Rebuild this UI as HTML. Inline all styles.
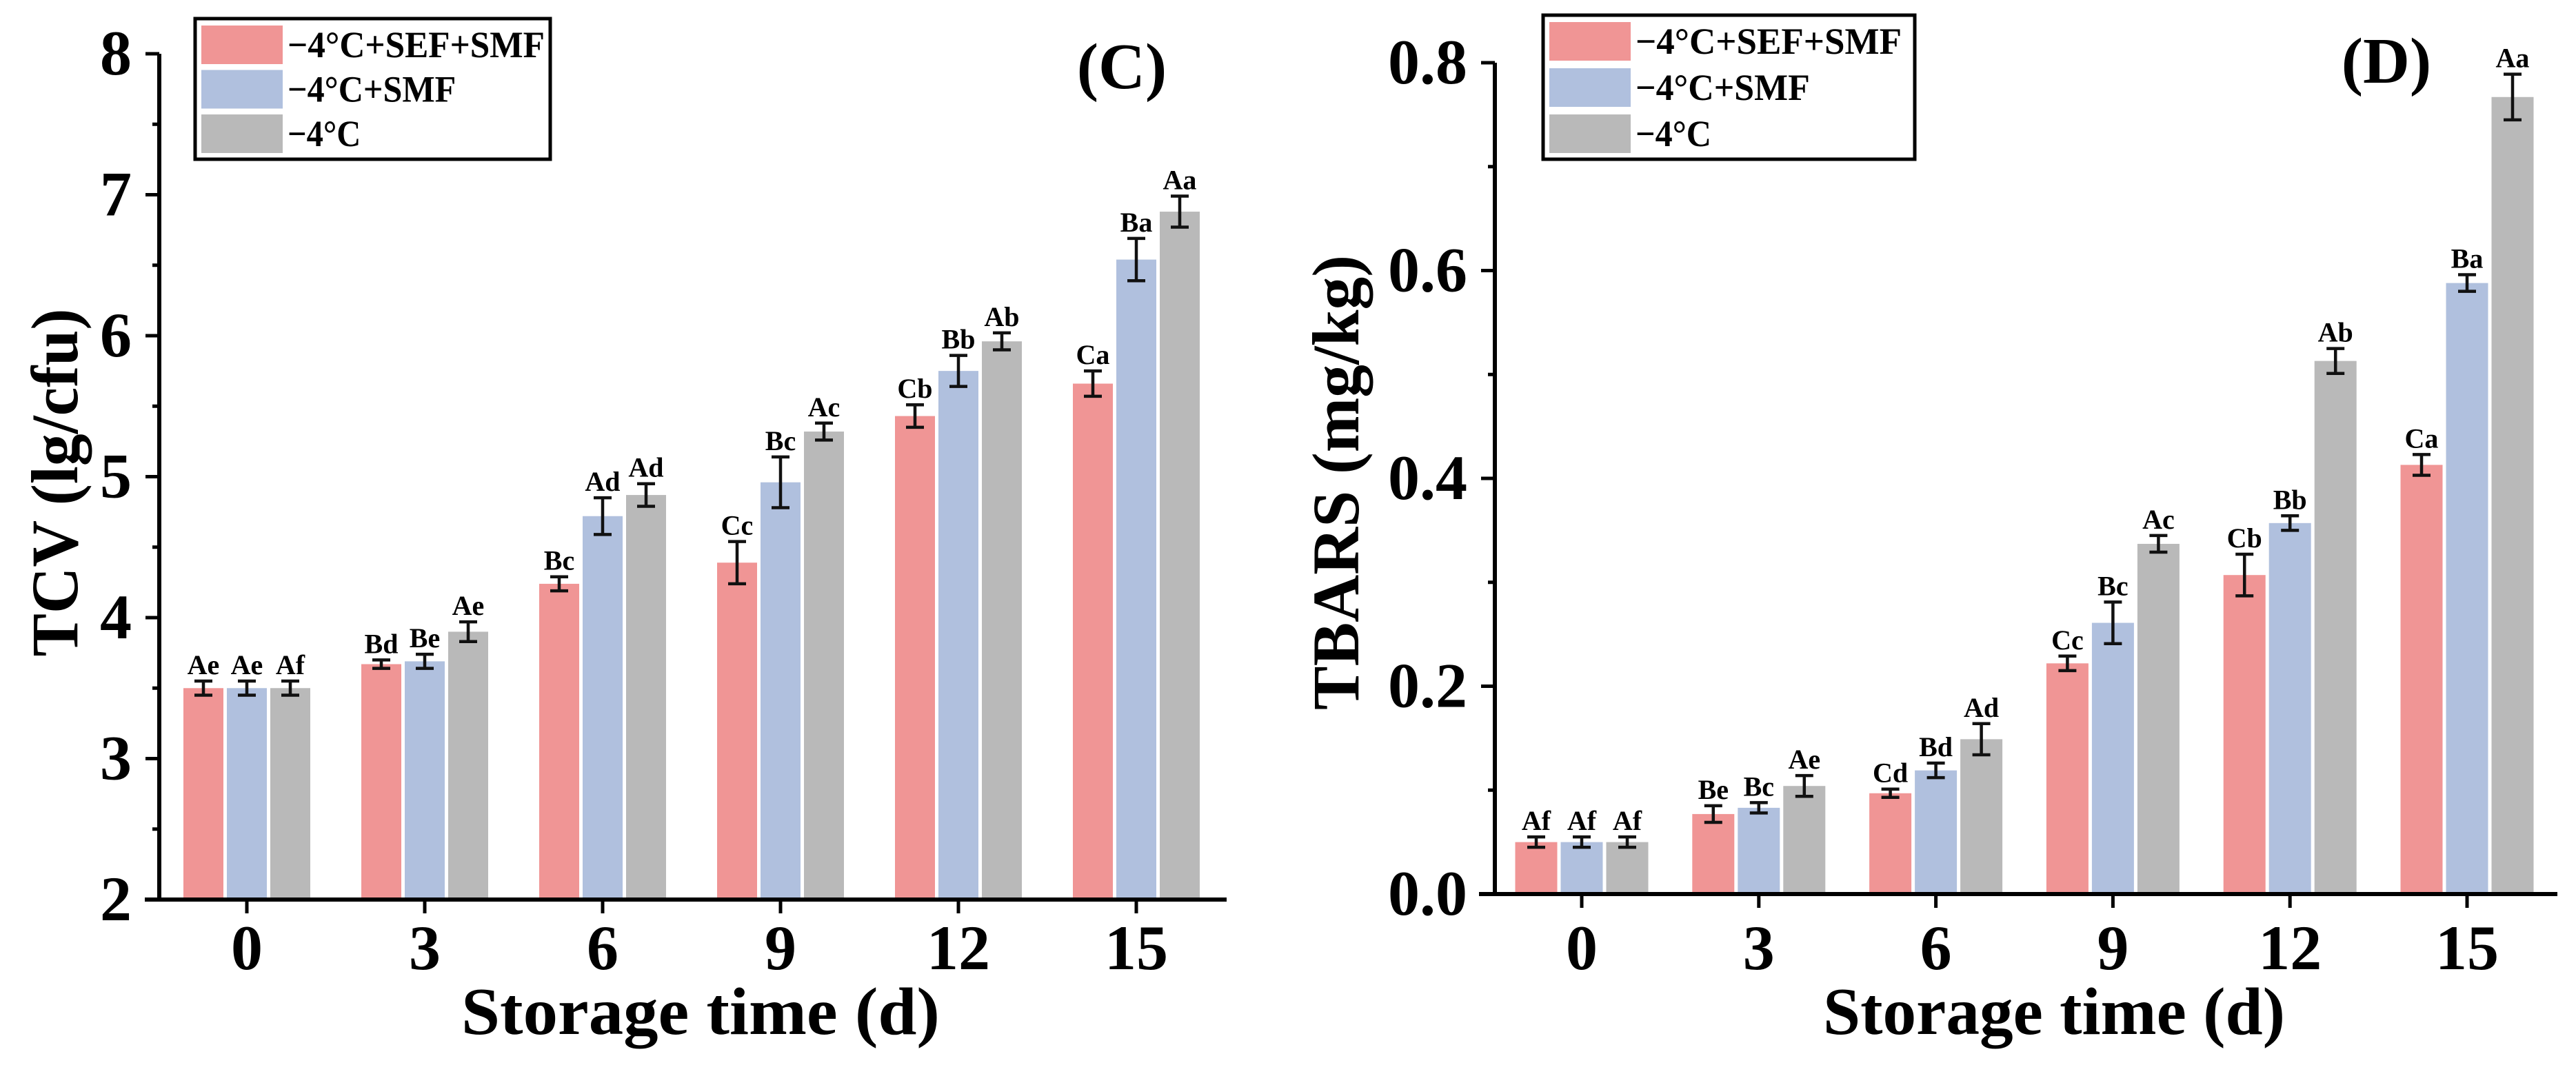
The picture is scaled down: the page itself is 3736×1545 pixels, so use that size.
<!DOCTYPE html>
<html><head><meta charset="utf-8"><style>
html,body{margin:0;padding:0;background:#fff;}
svg{display:block;font-family:"Liberation Serif",serif;font-weight:bold;}
</style></head><body>
<svg id="chart" width="3736" height="1545" viewBox="0 0 3736 1545" xmlns="http://www.w3.org/2000/svg"></svg>
<script>
const categories = ["0","3","6","9","12","15"];
const seriesNames = ["\u22124\u00B0C+SEF+SMF","\u22124\u00B0C+SMF","\u22124\u00B0C"];
const colors = ["#f09595","#b0c0de","#b9b9b9"];
const tcvSef = [3.50,3.67,4.24,4.39,5.43,5.66];
const tcvSmf = [3.50,3.69,4.72,4.96,5.75,6.54];
const tcvCtl = [3.50,3.90,4.87,5.32,5.96,6.88];
const tcvErrSef = [0.05,0.03,0.05,0.15,0.08,0.09];
const tcvErrSmf = [0.05,0.05,0.13,0.18,0.11,0.15];
const tcvErrCtl = [0.05,0.07,0.08,0.06,0.06,0.11];
const tcvLblSef = ["Ae","Bd","Bc","Cc","Cb","Ca"];
const tcvLblSmf = ["Ae","Be","Ad","Bc","Bb","Ba"];
const tcvLblCtl = ["Af","Ae","Ad","Ac","Ab","Aa"];
const tcvTicks = ["2","3","4","5","6","7","8"];
const tbSef = [0.050,0.077,0.097,0.222,0.307,0.413];
const tbSmf = [0.050,0.083,0.119,0.261,0.357,0.588];
const tbCtl = [0.050,0.104,0.149,0.337,0.513,0.767];
const tbErrSef = [0.005,0.008,0.004,0.007,0.02,0.01];
const tbErrSmf = [0.005,0.005,0.007,0.02,0.007,0.008];
const tbErrCtl = [0.005,0.01,0.015,0.008,0.012,0.022];
const tbLblSef = ["Af","Be","Cd","Cc","Cb","Ca"];
const tbLblSmf = ["Af","Bc","Bd","Bc","Bb","Ba"];
const tbLblCtl = ["Af","Ae","Ad","Ac","Ab","Aa"];
const tbTicks = ["0.0","0.2","0.4","0.6","0.8"];

const NS="http://www.w3.org/2000/svg";
const svg=document.getElementById('chart');
function mk(tag,attrs,parent){const e=document.createElementNS(NS,tag);for(const k in attrs)e.setAttribute(k,attrs[k]);(parent||svg).appendChild(e);return e;}

function panel(o){
  const g=mk('g',{});
  
  
  const yScale=v=>o.yB-(v-o.yMin)/(o.yMax-o.yMin)*(o.yB-o.yT);
  const xCat=i=>o.x0+i*o.step;
  const series=[o.s1,o.s2,o.s3], errs=[o.e1,o.e2,o.e3], lbls=[o.l1,o.l2,o.l3];
  for(let s=0;s<3;s++){
    for(let i=0;i<categories.length;i++){
      const cx=xCat(i)+(s-1)*o.off, v=series[s][i], y=yScale(v);
      const r=mk('rect',{x:cx-o.bw/2,y:y,width:o.bw,height:o.yB-y,fill:colors[s]},g);
      
      
      const yt=yScale(v+errs[s][i]), yb=yScale(v-errs[s][i]);
      const eb=mk('path',{d:`M${cx} ${yt}V${yb}M${cx-13} ${yt}H${cx+13}M${cx-13} ${yb}H${cx+13}`,stroke:'#111','stroke-width':4.5,fill:'none'},g);
      
      
      const t=mk('text',{x:cx,y:yt-10,'text-anchor':'middle','font-size':40},g);
      t.textContent=lbls[s][i];
      
      
    }
  }
  const ax=mk('path',{d:`M${o.ax} ${o.yT}V${o.yB}M${o.xStart} ${o.yB}H${o.xEnd}`,stroke:'#000','stroke-width':6,fill:'none'},g);
  
  
  o.ticks.forEach((tl,k)=>{
    const v=parseFloat(tl), y=yScale(v);
    mk('line',{x1:o.ax-20,x2:o.ax,y1:y,y2:y,stroke:'#000','stroke-width':5},g);
    if(k<o.ticks.length-1){const ym=yScale(v+o.minor);mk('line',{x1:o.ax-10,x2:o.ax,y1:ym,y2:ym,stroke:'#000','stroke-width':5},g);}
    const t=mk('text',{x:o.ax-40,y:y+30,'text-anchor':'end','font-size':92},g);
    t.textContent=tl;
    
    
  });
  categories.forEach((c,i)=>{
    const x=xCat(i);
    mk('line',{x1:x,x2:x,y1:o.yB,y2:o.yB+20,stroke:'#000','stroke-width':5},g);
    const t=mk('text',{x:x,y:1406,'text-anchor':'middle','font-size':92},g);
    t.textContent=c;
    
    
  });
  const xt=mk('text',{x:o.xTitle,y:1500,'text-anchor':'middle','font-size':98,textLength:o.xTitleW,lengthAdjust:'spacingAndGlyphs'},g);
  xt.textContent='Storage time (d)';
  
  
  const yt=mk('text',{x:0,y:0,'text-anchor':'middle','font-size':96,textLength:o.yTitleW,lengthAdjust:'spacingAndGlyphs',transform:`translate(${o.yTitleX},700) rotate(-90)`},g);
  yt.textContent=o.yTitle;
  
  
  const pl=mk('text',{x:o.plX,y:o.plY,'text-anchor':'middle','font-size':94},g);
  pl.textContent=o.panelLabel;
  
  
  const lg=mk('g',{},g);
  
  
  mk('rect',{x:o.lgX,y:o.lgY,width:o.lgW,height:o.lgH,fill:'#fff',stroke:'#000','stroke-width':5},lg);
  const widths=[o.tw,o.tw*0.655,o.tw*0.285];
  seriesNames.forEach((n,s)=>{
    const sw=mk('rect',{x:o.lgX+9,y:o.lgY+10+s*o.row,width:118,height:56,fill:colors[s]},lg);
    
    
    const t=mk('text',{x:o.lgX+134,y:o.lgY+56+s*o.row,'font-size':54,textLength:widths[s],lengthAdjust:'spacingAndGlyphs'},lg);
    t.textContent=n;
    
    
  });
}
panel({name:'panel-c-tcv',ax:231,xStart:210,yT:78,yB:1305,xEnd:1779,x0:358,step:258,off:63,bw:58,yMin:2,yMax:8,minor:0.5,
  s1:tcvSef,s2:tcvSmf,s3:tcvCtl,e1:tcvErrSef,e2:tcvErrSmf,e3:tcvErrCtl,l1:tcvLblSef,l2:tcvLblSmf,l3:tcvLblCtl,
  ticks:tcvTicks,xTitle:1016,xTitleW:694,yTitle:'TCV (lg/cfu)',yTitleX:112,yTitleW:505,panelLabel:'(C)',plX:1627,plY:128,
  lgX:283,lgY:27,lgW:515,lgH:204,row:64.5,tw:373});
panel({name:'panel-d-tbars',ax:2168,xStart:2145,yT:91,yB:1297,xEnd:3709,x0:2294,step:256.8,off:66,bw:61,yMin:0,yMax:0.8,minor:0.1,
  s1:tbSef,s2:tbSmf,s3:tbCtl,e1:tbErrSef,e2:tbErrSmf,e3:tbErrCtl,l1:tbLblSef,l2:tbLblSmf,l3:tbLblCtl,
  ticks:tbTicks,xTitle:2979,xTitleW:670,yTitle:'TBARS (mg/kg)',yTitleX:1970,yTitleW:660,panelLabel:'(D)',plX:3461,plY:120,
  lgX:2238,lgY:22,lgW:539,lgH:209,row:67,tw:386});
</script>
</body></html>
